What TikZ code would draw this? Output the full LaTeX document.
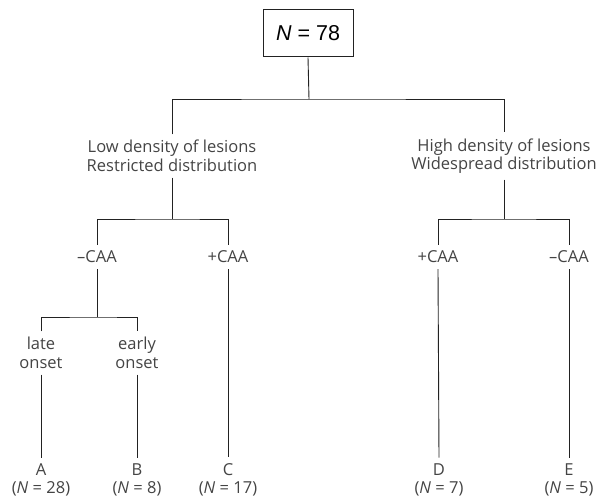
\documentclass[tikz,border=0pt]{standalone}
\usepackage{fontspec}
\setmainfont{Open Sans}
\newfontfamily\boxfont{Liberation Sans}
\definecolor{txt}{HTML}{444444}
\definecolor{ln}{HTML}{222222}
\begin{document}
\begin{tikzpicture}[x=1pt,y=-1pt,
  lbl/.style={text=txt,font=\fontsize{16.5}{18.5}\selectfont,align=center,inner sep=0pt,outer ysep=6pt},
  conn/.style={draw=ln,line width=0.9pt},
  rootbox/.style={draw=ln,line width=1pt,minimum width=90pt,minimum height=47pt,inner sep=0pt,font=\boxfont\fontsize{21.5}{24}\selectfont}]
\useasboundingbox (0,0) rectangle (605,500);
\node[rootbox] (root) at (308,33.5) {\textit{N} = 78};
\node[lbl] (low) at (172,156) {Low density of lesions\\Restricted distribution};
\node[lbl] (high) at (504,156) {High density of lesions\\Widespread distribution};
\node[lbl] (mcaa1) at (97,257) {–CAA};
\node[lbl] (pcaa1) at (228,257) {+CAA};
\node[lbl] (pcaa2) at (438,257) {+CAA};
\node[lbl] (mcaa2) at (569,257) {–CAA};
\node[lbl] (late) at (41,353) {late\\onset};
\node[lbl] (early) at (137,353) {early\\onset};
\node[lbl] (A) at (41,480) {A\\(\textit{N} = 28)};
\node[lbl] (B) at (137,480) {B\\(\textit{N} = 8)};
\node[lbl] (C) at (228,480) {C\\(\textit{N} = 17)};
\node[lbl] (D) at (439,480) {D\\(\textit{N} = 7)};
\node[lbl] (E) at (569,480) {E\\(\textit{N} = 5)};
\coordinate (j0) at (309,99);
\coordinate (j1) at (172,219);
\coordinate (j2) at (504,219);
\coordinate (j3) at (97,317);
\draw[conn] (root.south) -- (j0);
\draw[conn] (low.north) |- (j0) -| (high.north);
\draw[conn] (low.south) -- (j1);
\draw[conn] (mcaa1.north) |- (j1) -| (pcaa1.north);
\draw[conn] (high.south) -- (j2);
\draw[conn] (pcaa2.north) |- (j2) -| (mcaa2.north);
\draw[conn] (mcaa1.south) -- (j3);
\draw[conn] (late.north) |- (j3) -| (early.north);
\draw[conn] (late.south) -- (A.north);
\draw[conn] (early.south) -- (B.north);
\draw[conn] (pcaa1.south) -- (C.north);
\draw[conn] (pcaa2.south) -- (D.north);
\draw[conn] (mcaa2.south) -- (E.north);
\end{tikzpicture}
\end{document}
